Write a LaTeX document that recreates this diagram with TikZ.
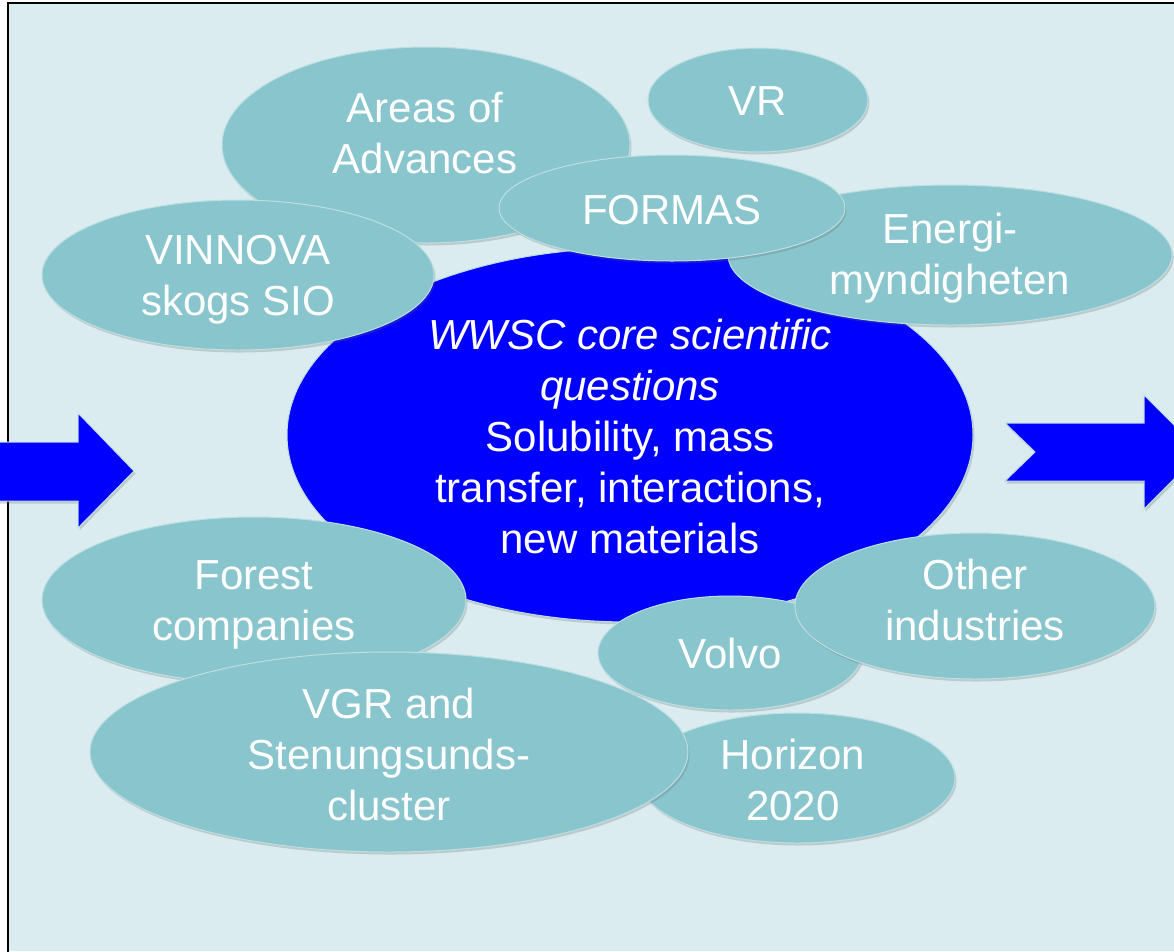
\documentclass[tikz,border=0pt]{standalone}
\usepackage{fontspec}
\setmainfont{Liberation Sans}
\usetikzlibrary{shapes.geometric,shadows}
\definecolor{bgc}{HTML}{DAECEF}
\definecolor{blobc}{HTML}{89C5CC}
\definecolor{edgec}{HTML}{BCDFE3}
\definecolor{corec}{HTML}{0000FF}
\tikzset{
  blob/.style={ellipse, fill=blobc, draw=edgec, line width=1pt, inner sep=0pt,
    drop shadow={shadow xshift=1.5pt, shadow yshift=-2.5pt, opacity=0.25, fill=black!60}},
  core/.style={blob, fill=corec},
  txt/.style={text=white, align=center, inner sep=0pt, font=\fontsize{42}{51}\selectfont},
  bigarrow/.style={fill=corec, draw=edgec, line width=1pt, line join=miter,
    drop shadow={shadow xshift=1.5pt, shadow yshift=-2.5pt, opacity=0.25, fill=black!60}},
}
\begin{document}
\begin{tikzpicture}[x=1pt,y=-1pt]
\clip (0,0) rectangle (1174,951);
\useasboundingbox (0,0) rectangle (1174,951);
\fill[white] (0,0) rectangle (1174,951);
\fill[bgc] (8,3) rectangle (1174,951);
\draw[black, line width=2pt] (8,960) -- (8,3) -- (1180,3);

% ellipses in stacking order
\node[blob, minimum width=408pt, minimum height=196pt] (areas) at (426,145) {};
\node[blob, minimum width=220pt, minimum height=104pt] (vr) at (758,100) {};
\node[core, minimum width=686pt, minimum height=374pt] (core) at (630,435) {};
\node[blob, minimum width=392pt, minimum height=150pt] (vinnova) at (238,275) {};
\node[blob, minimum width=444pt, minimum height=140pt] (energi) at (950,255) {};
\node[blob, minimum width=346pt, minimum height=106pt] (formas) at (672,208) {};
\node[blob, minimum width=424pt, minimum height=166pt] (forest) at (254,600) {};
\node[blob, minimum width=316pt, minimum height=130pt] (horizon) at (797,778) {};
\node[blob, minimum width=598pt, minimum height=200pt] (vgr) at (389,752) {};
\node[blob, minimum width=264pt, minimum height=114pt] (volvo) at (730,653) {};
\node[blob, minimum width=360pt, minimum height=146pt] (other) at (975,606) {};

% texts
\node[txt] (areasT) at (425,133) {Areas of\\Advances};
\node[txt] (vrT) at (758,101) {VR};
\node[txt] (formasT) at (672,210) {FORMAS};
\node[txt] (energiT) at (950,258) {Energi-\\myndigheten};
\node[txt] (vinnovaT) at (238,280) {VINNOVA\\skogs SIO};
\node[txt] (coreT) at (630,436) {\itshape WWSC core scientific\\\itshape questions\\Solubility, mass\\transfer, interactions,\\new materials};
\node[txt] (forestT) at (254,605) {Forest\\companies};
\node[txt] (otherT) at (975,600) {Other\\industries};
\node[txt] (volvoT) at (730,653) {Volvo};
\node[txt] (vgrT) at (389,754) {VGR and\\Stenungsunds-\\cluster};
\node[txt] (horizonT) at (793,780) {Horizon\\2020};

% arrows
\path[bigarrow] (-5,442) -- (78,442) -- (78,413) -- (134,471) -- (78,528) -- (78,501) -- (-5,501) -- cycle;
\path[bigarrow] (1005,423) -- (1144,423) -- (1144,395) -- (1201,452) -- (1144,509) -- (1144,481) -- (1005,481) -- (1035,452) -- cycle;
\end{tikzpicture}
\end{document}
